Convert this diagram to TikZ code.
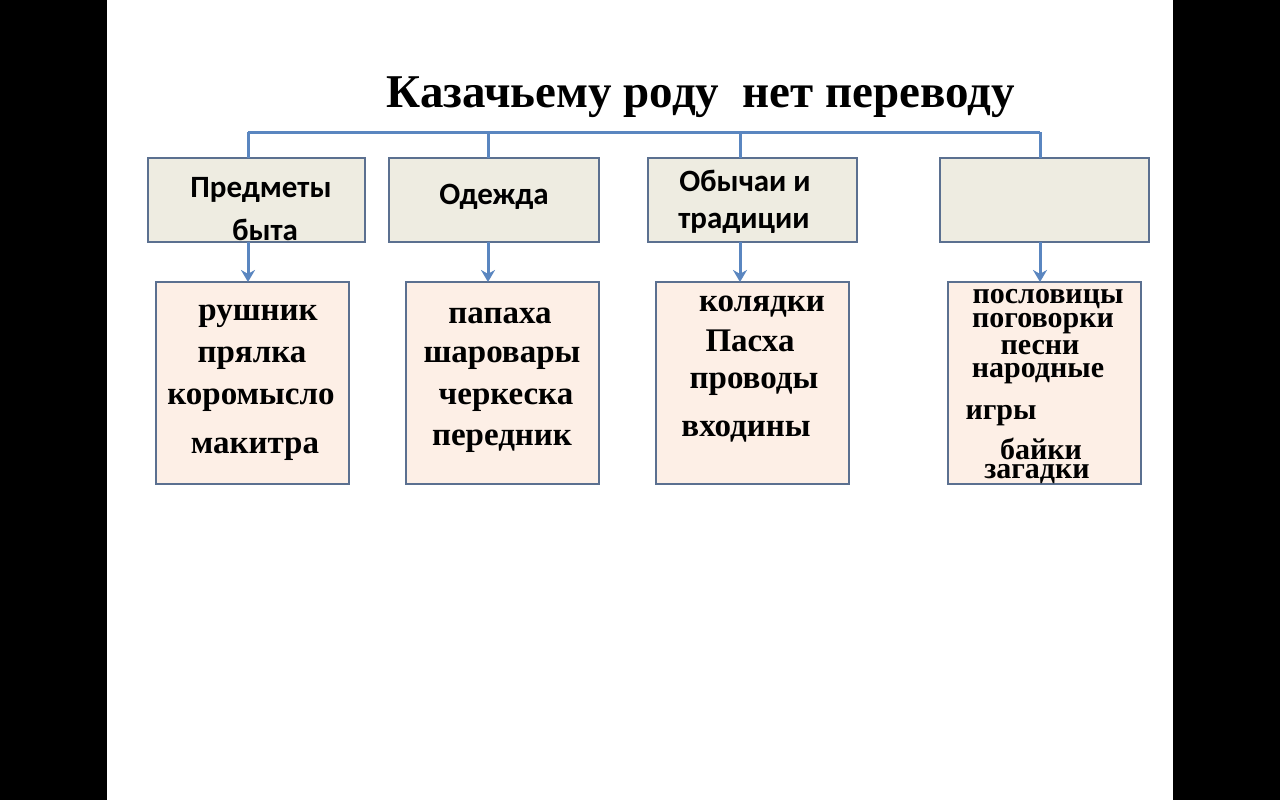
\documentclass[tikz,border=0pt]{standalone}
\usepackage{fontspec}
\usetikzlibrary{arrows.meta}
\setmainfont{Liberation Serif}
\newfontfamily\carlitofont{Carlito}
\begin{document}
\begin{tikzpicture}[x=1pt,y=-1pt,
 topbox/.style={draw=bordc,line width=2.5pt,fill=topc},
 botbox/.style={draw=bordc,line width=2.5pt,fill=botc},
 conn/.style={draw=linec,line width=3pt},
 arr/.style={conn,-{Stealth[length=12pt,width=14pt]}},
 bt/.style={font=\bfseries\fontsize{33}{33}\selectfont,inner sep=0},
 bs/.style={font=\bfseries\fontsize{30}{30}\selectfont,inner sep=0},
 tt/.style={font=\carlitofont\bfseries\fontsize{31}{31}\selectfont,inner sep=0}]
\definecolor{bordc}{HTML}{5B7090}
\definecolor{linec}{HTML}{5A86C0}
\definecolor{topc}{HTML}{EEECE1}
\definecolor{botc}{HTML}{FDEFE6}
\useasboundingbox (0,0) rectangle (1280,800);
\fill[black] (0,0) rectangle (1280,800);
\fill[white] (107,0) rectangle (1173,800);
\node[font=\bfseries\fontsize{47}{47}\selectfont,inner sep=0] (title) at (701,97) {Казачьему роду\ \ нет переводу};
\coordinate (c1) at (248,132); \coordinate (c2) at (488,132);
\coordinate (c3) at (740,132); \coordinate (c4) at (1040,132);
\draw[conn] (c1) -- (c4);
\node[topbox,minimum width=217,minimum height=84,inner sep=0] (t1) at (256.5,200) {};
\node[topbox,minimum width=210,minimum height=84,inner sep=0] (t2) at (494,200) {};
\node[topbox,minimum width=209,minimum height=84,inner sep=0] (t3) at (752.5,200) {};
\node[topbox,minimum width=209,minimum height=84,inner sep=0] (t4) at (1044.5,200) {};
\foreach \c/\x in {c1/248,c2/488,c3/740,c4/1040}{
 \draw[conn] (\c) -- (\x,158);}
\node[botbox,minimum width=193,minimum height=202,inner sep=0] (b1) at (252.5,383) {};
\node[botbox,minimum width=193,minimum height=202,inner sep=0] (b2) at (502.5,383) {};
\node[botbox,minimum width=193,minimum height=202,inner sep=0] (b3) at (752.5,383) {};
\node[botbox,minimum width=193,minimum height=202,inner sep=0] (b4) at (1044.5,383) {};
\draw[arr] (248,242) -- (248,282);
\draw[arr] (488,242) -- (488,282);
\draw[arr] (740,242) -- (740,282);
\draw[arr] (1040,242) -- (1040,282);
\node[tt] at (261,190) {Предметы}; \node[tt] at (265,230) {быта};
\node[tt] at (494,197) {Одежда};
\node[tt] at (745,181) {Обычаи и}; \node[tt] at (744,223) {традиции};
\node[bt] at (258,316) {рушник}; \node[bt] at (252,358) {прялка};
\node[bt] at (251,400) {коромысло}; \node[bt] at (255,449) {макитра};
\node[bt] at (500,316) {папаха}; \node[bt] at (502,358) {шаровары};
\node[bt] at (506,400) {черкеска}; \node[bt] at (502,441) {передник};
\node[bt] at (762,307) {колядки}; \node[bt] at (750,341) {Пасха};
\node[bt] at (754,384) {проводы}; \node[bt] at (746,432) {входины};
\node[bs] at (1048,299) {пословицы}; \node[bs] at (1043,324) {поговорки};
\node[bs] at (1040,348) {песни}; \node[bs] at (1038,374) {народные};
\node[bs] at (1001,416) {игры}; \node[bs] at (1041,449) {байки};
\node[bs] at (1037,474) {загадки};
\end{tikzpicture}
\end{document}
